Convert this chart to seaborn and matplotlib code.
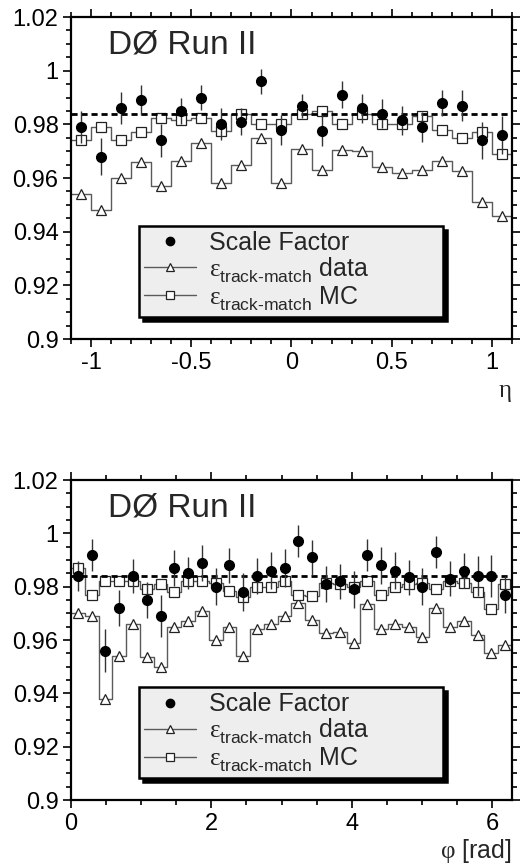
import numpy as np
import pandas as pd
import seaborn as sns
import matplotlib as mpl
import matplotlib.pyplot as plt
from matplotlib.lines import Line2D
from matplotlib.ticker import MultipleLocator, FuncFormatter

sns.set_theme(style="ticks")
plt.rcParams["font.family"] = ["Liberation Sans", "DejaVu Sans"]
plt.rcParams["mathtext.fontset"] = "custom"
plt.rcParams["mathtext.rm"] = "Liberation Sans"
plt.rcParams["mathtext.it"] = "Liberation Serif"
plt.rcParams["mathtext.bf"] = "Liberation Sans:bold"

# ---- data: eta binning (22 bins, -1.1 .. 1.1)
eta_edges = np.linspace(-1.1, 1.1, 23)
eta_sf = [0.979, 0.968, 0.986, 0.989, 0.974, 0.985, 0.990, 0.980, 0.981, 0.996, 0.978,
          0.987, 0.9775, 0.991, 0.986, 0.984, 0.9815, 0.979, 0.988, 0.987, 0.974, 0.976]
eta_sf_err = [0.006, 0.007, 0.006, 0.0055, 0.006, 0.005, 0.0045, 0.006, 0.005, 0.0045, 0.0055,
              0.0045, 0.0055, 0.005, 0.0053, 0.0055, 0.0053, 0.0056, 0.005, 0.0057, 0.007, 0.007]
eta_data = [0.954, 0.948, 0.960, 0.966, 0.957, 0.9665, 0.973, 0.958, 0.965, 0.975, 0.958,
            0.971, 0.963, 0.9705, 0.970, 0.964, 0.962, 0.963, 0.9665, 0.9625, 0.951, 0.946]
eta_mc = [0.974, 0.979, 0.974, 0.977, 0.9825, 0.9815, 0.9825, 0.9775, 0.984, 0.980, 0.980,
          0.984, 0.985, 0.980, 0.984, 0.980, 0.980, 0.983, 0.978, 0.975, 0.977, 0.969]

# ---- data: phi binning (32 bins, 0 .. 2pi)
phi_edges = np.linspace(0, 2 * np.pi, 33)
phi_sf = [0.984, 0.992, 0.956, 0.972, 0.984, 0.975, 0.969, 0.987, 0.985, 0.989, 0.980,
          0.988, 0.978, 0.984, 0.986, 0.987, 0.997, 0.991, 0.981, 0.982, 0.979, 0.992,
          0.988, 0.986, 0.9835, 0.980, 0.993, 0.983, 0.986, 0.984, 0.984, 0.977]
phi_sf_err = [0.0056, 0.006, 0.008, 0.0067, 0.0065, 0.0066, 0.0078, 0.0067, 0.006, 0.0067, 0.007,
              0.0065, 0.007, 0.0068, 0.007, 0.007, 0.006, 0.0065, 0.0067, 0.0066, 0.007, 0.006,
              0.007, 0.0069, 0.0066, 0.007, 0.006, 0.0065, 0.0066, 0.0074, 0.0078, 0.007]
phi_data = [0.970, 0.969, 0.938, 0.954, 0.966, 0.9535, 0.950, 0.965, 0.967, 0.971, 0.960,
            0.965, 0.954, 0.964, 0.966, 0.969, 0.974, 0.9675, 0.9625, 0.963, 0.959, 0.9735,
            0.964, 0.966, 0.965, 0.961, 0.972, 0.965, 0.967, 0.962, 0.955, 0.958]
phi_mc = [0.987, 0.977, 0.982, 0.982, 0.982, 0.979, 0.981, 0.978, 0.982, 0.982, 0.9815,
          0.9785, 0.976, 0.980, 0.980, 0.982, 0.977, 0.9765, 0.9815, 0.981, 0.980, 0.982,
          0.977, 0.980, 0.981, 0.9815, 0.979, 0.982, 0.9815, 0.978, 0.9715, 0.981]

sf_mean = 0.984

labels = ["Scale Factor",
          "$ε^{\\,}_{\\mathrm{track\u2010match}}$ data",
          "$ε^{\\,}_{\\mathrm{track\u2010match}}$ MC"]

STEP_COL = "#5a5a5a"
EDGE_COL = "#222222"


def draw_panel(ax, edges, sf, sf_err, data, mc, xmajor, xminor, xlabel):
    edges = np.asarray(edges)
    centers = (edges[:-1] + edges[1:]) / 2
    for vals, marker, ms in [(data, "^", 7), (mc, "s", 6.5)]:
        sns.lineplot(x=edges, y=np.append(vals, vals[-1]), drawstyle="steps-post",
                     color=STEP_COL, lw=1, estimator=None, sort=False, ax=ax)
        ax.plot(centers, vals, ls="none", marker=marker, mfc="white", mec=EDGE_COL,
                ms=ms, mew=0.9, zorder=3)
    ax.axhline(sf_mean, color="black", lw=2, ls=(0, (2.2, 1.4)), zorder=4)
    ax.errorbar(centers, sf, yerr=sf_err, fmt="o", color="black", ms=7,
                ecolor="#333333", elinewidth=1, capsize=0, zorder=5)

    ax.set_xlim(edges[0], edges[-1])
    ax.set_ylim(0.9, 1.02)
    ax.xaxis.set_major_locator(MultipleLocator(xmajor))
    ax.xaxis.set_minor_locator(MultipleLocator(xminor))
    ax.yaxis.set_major_locator(MultipleLocator(0.02))
    ax.yaxis.set_minor_locator(MultipleLocator(0.005))
    fmt = FuncFormatter(lambda v, p: f"{v:g}")
    ax.xaxis.set_major_formatter(fmt)
    ax.yaxis.set_major_formatter(fmt)
    ax.tick_params(which="both", direction="out", top=True, right=True,
                   width=1.2, colors="black", labelsize=17, pad=3)
    ax.tick_params(which="major", length=6)
    ax.tick_params(which="minor", length=3.5)
    for s in ax.spines.values():
        s.set_linewidth(1.6)
        s.set_color("black")
    ax.set_xlabel(None)
    ax.set_ylabel(None)

    ax.text(0.084, 0.912, "DØ Run II", transform=ax.transAxes, fontsize=24,
            ha="left", va="center")
    ax.text(1.0, -0.18, xlabel, transform=ax.transAxes, fontsize=18,
            ha="right", va="baseline")

    handles = [
        Line2D([], [], ls="none", marker="o", color="black", ms=6),
        Line2D([], [], color=STEP_COL, lw=1, marker="^", mfc="white", mec=EDGE_COL, ms=6, mew=0.9),
        Line2D([], [], color=STEP_COL, lw=1, marker="s", mfc="white", mec=EDGE_COL, ms=5.5, mew=0.9),
    ]
    leg = ax.legend(handles, labels, loc="lower left", mode="expand",
                    bbox_to_anchor=(0.154, 0.068, 0.689, 0.29), borderaxespad=0,
                    fontsize=18, handlelength=2.1, handletextpad=0.5,
                    labelspacing=0.0, borderpad=0.2, fancybox=False, framealpha=1,
                    facecolor="#eeeeee", edgecolor="black",
                    shadow={"color": "black", "alpha": 1.0, "ox": 3, "oy": -3})
    leg.get_frame().set_linewidth(1.8)
    leg.set_zorder(10)


fig = plt.figure(figsize=(5.21, 8.66), dpi=100)
ax1 = fig.add_axes([0.1363, 0.6085, 0.8464, 0.3718])
ax2 = fig.add_axes([0.1363, 0.0762, 0.8464, 0.3695])

draw_panel(ax1, eta_edges, eta_sf, eta_sf_err, eta_data, eta_mc, 0.5, 0.1, "$η$")
draw_panel(ax2, phi_edges, phi_sf, phi_sf_err, phi_data, phi_mc, 2, 0.5, "$φ$ [rad]")

fig.savefig("out.png", dpi=100, facecolor="white")
